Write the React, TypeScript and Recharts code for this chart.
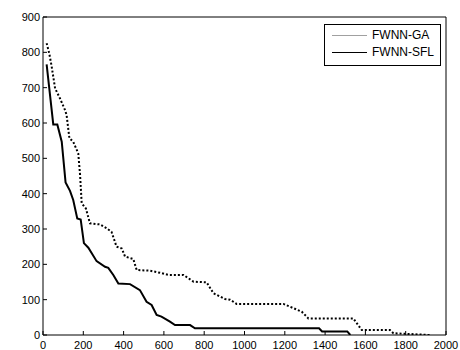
import { Legend, Line, LineChart, XAxis, YAxis } from 'recharts';

const gaX = [18, 31, 43, 60, 84, 109, 117, 131, 150, 175, 184, 192, 213, 233, 283, 316, 340, 365, 391, 407, 448, 465, 531, 581, 622, 697, 747, 812, 846, 903, 928, 961, 1193, 1284, 1317, 1540, 1582, 1722, 1739, 1921];
const gaY = [826, 797, 760, 698, 670, 637, 623, 557, 547, 514, 453, 373, 358, 316, 313, 302, 292, 250, 245, 222, 215, 184, 182, 176, 170, 170, 151, 149, 118, 102, 100, 88, 88, 66, 47, 47, 14, 14, 5, 0];

const sflX = [18, 51, 71, 93, 112, 134, 150, 170, 187, 203, 225, 266, 308, 324, 349, 374, 432, 481, 514, 539, 564, 588, 630, 655, 730, 754, 1370, 1385, 1510, 1525];
const sflY = [766, 596, 596, 547, 432, 408, 382, 330, 327, 260, 247, 209, 193, 190, 170, 146, 144, 127, 94, 85, 57, 52, 38, 28, 28, 19, 19, 10, 10, 0];

const xTicks = [0, 200, 400, 600, 800, 1000, 1200, 1400, 1600, 1800, 2000];
const yTicks = [0, 100, 200, 300, 400, 500, 600, 700, 800, 900];

const seriesNames = ['FWNN-GA', 'FWNN-SFL'];
const legendColors = ['#a0a0a0', '#000000'];

const gaData = gaX.map((x, i) => ({ x, y: gaY[i] }));
const sflData = sflX.map((x, i) => ({ x, y: sflY[i] }));

const tickStyle = { fill: '#000000', fontSize: 11 };

function LegendBox() {
  return (
    <div
      style={{
        width: 115,
        height: 38,
        border: '1px solid #000',
        background: '#fff',
        fontSize: 12,
        lineHeight: '17px',
        paddingTop: 2,
        boxSizing: 'content-box',
      }}
    >
      {seriesNames.map((name, i) => (
        <div key={name} style={{ display: 'flex', alignItems: 'center', height: 17 }}>
          <span
            style={{
              display: 'inline-block',
              width: 35,
              height: 0,
              borderTop: `1px solid ${legendColors[i]}`,
              marginLeft: 7,
              marginRight: 5,
            }}
          />
          <span>{name}</span>
        </div>
      ))}
    </div>
  );
}

export default function App() {
  return (
    <div style={{ position: 'absolute', left: 0, top: 0, width: 460, height: 350, background: '#fff' }}>
      <LineChart
        width={460}
        height={350}
        margin={{ top: 16, right: 13, left: 0, bottom: 0 }}
        style={{ fontFamily: '"Liberation Sans", Arial, sans-serif' }}
      >
        <XAxis
          xAxisId="b"
          dataKey="x"
          type="number"
          domain={[0, 2000]}
          allowDataOverflow
          ticks={xTicks}
          interval={0}
          height={15}
          tickSize={-4}
          tickMargin={10}
          tick={tickStyle}
          axisLine={{ stroke: '#000' }}
          tickLine={{ stroke: '#000' }}
        />
        <XAxis
          xAxisId="t"
          orientation="top"
          dataKey="x"
          type="number"
          domain={[0, 2000]}
          allowDataOverflow
          ticks={xTicks}
          interval={0}
          height={1}
          tickSize={-4}
          tick={false}
          axisLine={{ stroke: '#000' }}
          tickLine={{ stroke: '#000' }}
        />
        <YAxis
          yAxisId="l"
          type="number"
          domain={[0, 900]}
          allowDataOverflow
          ticks={yTicks}
          interval={0}
          width={43}
          tickSize={-4}
          tickMargin={7}
          tick={tickStyle}
          axisLine={{ stroke: '#000' }}
          tickLine={{ stroke: '#000' }}
        />
        <YAxis
          yAxisId="r"
          orientation="right"
          type="number"
          domain={[0, 900]}
          allowDataOverflow
          ticks={yTicks}
          interval={0}
          width={1}
          tickSize={-4}
          tick={false}
          axisLine={{ stroke: '#000' }}
          tickLine={{ stroke: '#000' }}
        />
        <Line
          xAxisId="b"
          yAxisId="l"
          data={gaData}
          dataKey="y"
          type="linear"
          stroke="#000"
          strokeWidth={2}
          strokeDasharray="2 2"
          dot={false}
          isAnimationActive={false}
          name="FWNN-GA"
        />
        <Line
          xAxisId="b"
          yAxisId="l"
          data={sflData}
          dataKey="y"
          type="linear"
          stroke="#000"
          strokeWidth={2}
          dot={false}
          isAnimationActive={false}
          name="FWNN-SFL"
        />
        <Legend
          layout="vertical"
          align="center"
          verticalAlign="middle"
          content={<LegendBox />}
          wrapperStyle={{ left: 324, top: 24, width: 117 }}
        />
      </LineChart>
    </div>
  );
}
